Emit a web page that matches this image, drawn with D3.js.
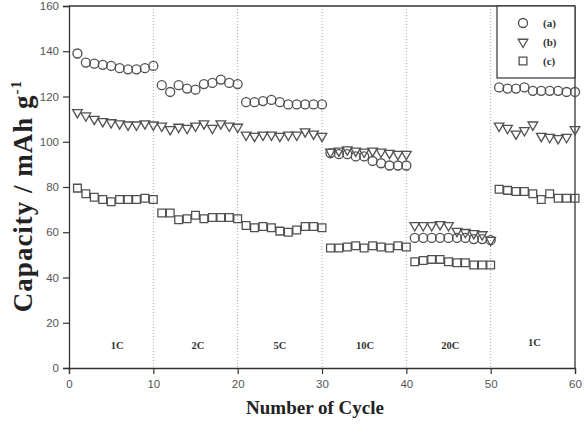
<!DOCTYPE html>
<html><head><meta charset="utf-8">
<script src="https://cdn.jsdelivr.net/npm/d3@7"></script>
<style>body{margin:0;background:#fff}svg{display:block}</style>
</head><body>
<svg id="c" width="584" height="433"></svg>
<script>
const cycles = d3.range(1, 61);
const seriesA = [139,135,134.5,134,133.5,132.5,132,132,132.5,133.5,
  125,122,125,123.5,123,125.5,126,127.5,126,125.5,
  117.5,117.5,118,118.5,117.5,116.5,116.5,116.5,116.5,116.5,
  95,94.5,94.5,93.5,93.5,91.5,90.5,89.5,89.5,89.5,
  57.5,57.5,57.5,57.5,57.5,57.5,57.5,57,57,56.5,
  124,123.5,123.5,124,122.5,122.5,122.5,122.5,122,122];
const seriesB = [113,111.5,110,109,108.5,108,107.5,107.5,108,107.5,
  107,105.5,106.5,106,107,108,106,108,107,106.5,
  103,102.5,103,103,102.5,103,103,104.5,103.5,102.5,
  95.5,96,96.5,96,95.5,96,95.5,95,94.5,94.5,
  63,63,63,63.5,63,60.5,60,59.5,59,56.5,
  107,106,103.5,105,107.5,102.5,102,101.5,102,105.5];
const seriesC = [79.5,77,75.5,74.5,73.5,74.5,74.5,74.5,75,74.5,
  68.5,68.5,65.5,66,67.5,66,66.5,66.5,66.5,66,
  63,62,62.5,62,60.5,60,61,62.5,62.5,62,
  53,53,53.5,54,53,54,53.5,53,54,53.5,
  47,47.5,48,48,47,46.5,46.5,45.5,45.5,45.5,
  79,78.5,78,78,77,74.5,77,75,75,75];
const seriesNames = ["(a)","(b)","(c)"];
const xTicks = [0,10,20,30,40,50,60];
const yTicks = [0,20,40,60,80,100,120,140,160];
const dividers = [10,20,30,40,50];
const rateLabels = ["1C","2C","5C","10C","20C","1C"];
const ratePos = [5.7,15.3,25,35.1,45.2,55.2];

const svg = d3.select("#c");
const x = d3.scaleLinear().domain([0,60]).range([69,575]);
const y = d3.scaleLinear().domain([0,160]).range([368,6]);
const serif = "'Liberation Serif','DejaVu Serif',serif";
const sans = "'Liberation Sans',Arial,sans-serif";

// dividers
svg.selectAll("line.div").data(dividers).enter().append("line")
  .attr("x1",d=>x(d)).attr("x2",d=>x(d)).attr("y1",y(160)).attr("y2",y(0))
  .attr("stroke","#aaa").attr("stroke-width",1).attr("stroke-dasharray","1,2");

// frame top/right
svg.append("line").attr("x1",x(0)).attr("x2",x(60)).attr("y1",y(160)).attr("y2",y(160)).attr("stroke","#333").attr("stroke-width",1.3);
svg.append("line").attr("x1",x(60)).attr("x2",x(60)).attr("y1",y(160)).attr("y2",y(0)).attr("stroke","#333").attr("stroke-width",1.3);

// axes
const gx = svg.append("g").attr("transform",`translate(0,${y(0)})`)
  .call(d3.axisBottom(x).tickValues(xTicks).tickSize(6).tickPadding(6).tickFormat(d3.format("d")));
const gy = svg.append("g").attr("transform",`translate(${x(0)},0)`)
  .call(d3.axisLeft(y).tickValues(yTicks).tickSize(6).tickPadding(4).tickFormat(d3.format("d")));
[gx,gy].forEach(g=>{
  g.select(".domain").attr("stroke","#333").attr("stroke-width",1.3);
  g.selectAll(".tick line").attr("stroke","#333").attr("stroke-width",1.2);
  g.selectAll(".tick text").attr("fill","#555").style("font-family",sans).style("font-size","11.5px");
});

// rate labels
svg.selectAll("text.rate").data(rateLabels).enter().append("text")
  .attr("x",(d,i)=>x(ratePos[i])).attr("y",(d,i)=> i===5?346:349)
  .attr("text-anchor","middle").style("font-family",serif).style("font-weight","bold")
  .style("font-size","10.5px").attr("fill","#333").text(d=>d);

// markers
const stroke = "#505050";
const tri = d3.symbol().type(d3.symbolTriangle).size(40)();
const sq = d3.symbol().type(d3.symbolSquare).size(60)();
const all = [seriesA,seriesB,seriesC];
const drawers = [
  (sel)=>sel.append("circle").attr("r",4.5),
  (sel)=>sel.append("path").attr("d",tri).attr("transform","rotate(180)"),
  (sel)=>sel.append("path").attr("d",sq)
];
all.forEach((vals,si)=>{
  const g = svg.append("g").attr("fill","none").attr("stroke",stroke).attr("stroke-width",1.3);
  const pts = g.selectAll("g").data(vals).enter().append("g")
    .attr("transform",(d,i)=>`translate(${x(cycles[i])},${y(d)})`);
  drawers[si](pts);
});

// legend
const lg = svg.append("g");
lg.append("rect").attr("x",497).attr("y",y(160)).attr("width",x(60)-497).attr("height",72)
  .attr("fill","#fff").attr("stroke","#333").attr("stroke-width",1.2);
seriesNames.forEach((n,i)=>{
  const yy = 23 + i*19;
  const m = lg.append("g").attr("transform",`translate(523,${yy})`).attr("fill","none").attr("stroke",stroke).attr("stroke-width",1.3);
  drawers[i](m);
  lg.append("text").attr("x",543).attr("y",yy+4).style("font-family",serif).style("font-weight","bold")
    .style("font-size","11px").attr("fill","#333").text(n);
});

// axis titles
svg.append("text").attr("x",315).attr("y",414).attr("text-anchor","middle")
  .style("font-family",serif).style("font-weight","bold").style("font-size","19px").attr("fill","#222")
  .text("Number of Cycle");
const yl = svg.append("text").attr("transform","translate(32,196) rotate(-90)").attr("text-anchor","middle")
  .style("font-family",serif).style("font-weight","bold").style("font-size","27px").style("letter-spacing","1px").attr("fill","#222");
yl.append("tspan").text("Capacity / mAh g");
yl.append("tspan").attr("dy",-11).style("font-size","15px").text("-1");
</script>
</body></html>
